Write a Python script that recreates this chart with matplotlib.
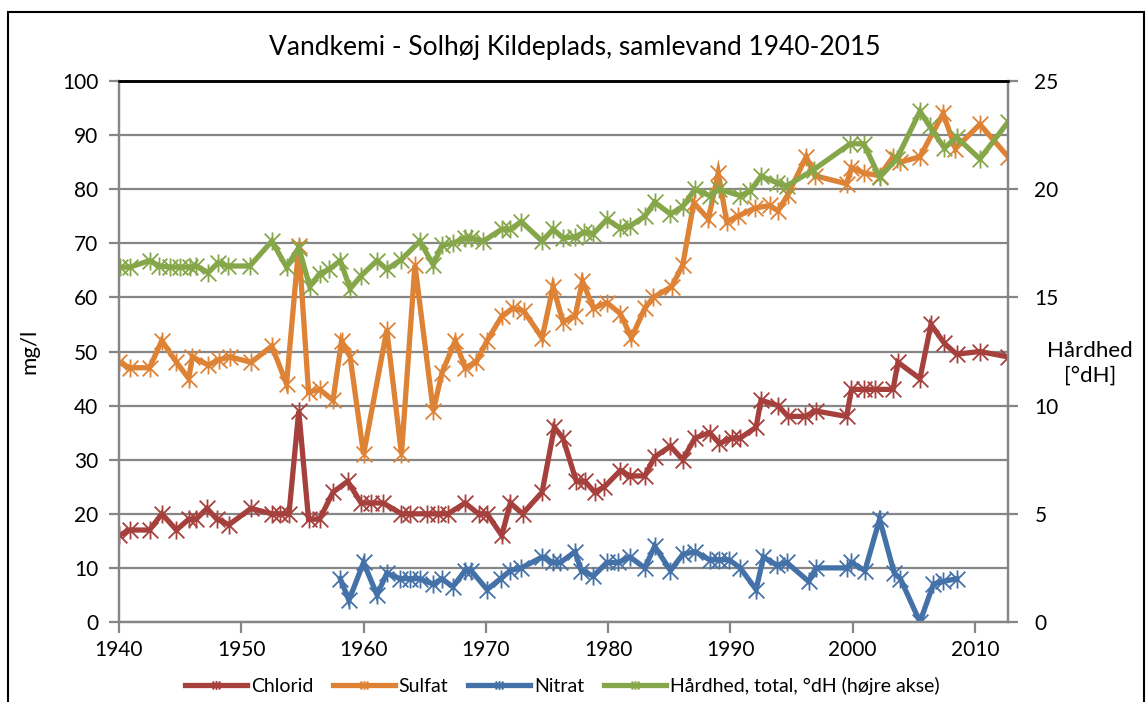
import numpy as np
import matplotlib
matplotlib.use('Agg')
import matplotlib.pyplot as plt
from matplotlib.path import Path
from matplotlib.patches import Rectangle

plt.rcParams['font.family'] = ['Lato', 'DejaVu Sans']

# ----------------------------------------------------------------
# Data (year, value)
# ----------------------------------------------------------------
chlorid_year = [1940.0, 1940.9, 1942.5, 1943.5, 1944.7, 1945.7, 1946.3, 1947.2, 1948.0, 1949.0,
                1950.8, 1952.5, 1953.2, 1953.9, 1954.7, 1955.5, 1956.4, 1957.5, 1958.7, 1959.8,
                1960.6, 1961.6, 1963.1, 1963.8, 1965.2, 1966.1, 1966.9, 1968.3, 1969.4, 1970.1,
                1971.3, 1972.0, 1973.0, 1974.6, 1975.6, 1976.3, 1977.4, 1978.1, 1978.9, 1979.7,
                1981.0, 1981.8, 1983.0, 1983.8, 1985.1, 1986.1, 1987.1, 1988.3, 1989.1, 1990.1,
                1990.8, 1992.1, 1992.5, 1993.9, 1994.7, 1996.1, 1997.0, 1999.5, 1999.9, 2000.9,
                2001.8, 2003.3, 2003.7, 2005.5, 2006.4, 2007.5, 2008.5, 2010.4, 2012.7]
chlorid = [16, 17, 17, 20, 17, 19, 19, 21, 19, 18,
           21, 20, 20, 20, 39, 19, 19, 24, 26, 22,
           22, 22, 20, 20, 20, 20, 20, 22, 20, 20,
           16, 22, 20, 24, 36, 34, 26, 26, 24, 25,
           28, 27, 27, 30.5, 32.5, 30, 34, 35, 33, 34,
           34, 36, 41, 40, 38, 38, 39, 38, 43, 43,
           43, 43, 48, 45, 55, 51.5, 49.5, 50, 49]

sulfat_year = [1940.0, 1940.9, 1942.5, 1943.5, 1944.7, 1945.7, 1946.0, 1947.3, 1948.2, 1949.1,
               1950.8, 1952.5, 1953.7, 1954.7, 1955.5, 1956.4, 1957.5, 1958.2, 1958.9, 1960.0,
               1961.9, 1963.1, 1964.2, 1965.7, 1966.4, 1967.5, 1968.3, 1969.2, 1970.1, 1971.3,
               1972.2, 1973.1, 1974.6, 1975.5, 1976.3, 1977.3, 1977.9, 1978.8, 1979.9, 1981.0,
               1981.9, 1983.0, 1983.7, 1985.2, 1986.1, 1987.0, 1988.2, 1989.0, 1989.7, 1990.6,
               1992.0, 1993.2, 1993.9, 1994.7, 1996.2, 1996.9, 1999.5, 1999.9, 2000.9, 2002.2,
               2003.3, 2003.9, 2005.5, 2007.4, 2008.4, 2010.4, 2012.7]
sulfat = [48, 47, 47, 52, 48, 45, 49, 47.5, 48.5, 49,
          48, 51, 44, 69.5, 42.5, 43, 41, 52, 49, 31,
          54, 31, 66, 39, 46, 52, 47, 48, 52, 56.5,
          58, 57.5, 52.5, 62, 55.5, 56.5, 63, 58, 59, 57,
          52.5, 58, 60, 62, 66, 77.5, 74.5, 83, 74, 75,
          76.5, 77, 76, 79, 86, 82.5, 81, 84, 83, 82.5,
          86, 85, 86, 94, 87.5, 92, 86]

nitrat_year = [1958.1, 1958.8, 1960.0, 1961.1, 1961.9, 1963.0, 1963.8, 1964.6, 1965.7, 1966.4,
               1967.3, 1968.3, 1968.8, 1970.1, 1971.2, 1972.0, 1972.9, 1974.6, 1975.5, 1976.1,
               1977.3, 1977.8, 1978.8, 1979.9, 1980.8, 1981.8, 1983.0, 1983.8, 1985.1, 1986.1,
               1987.1, 1988.3, 1989.1, 1989.9, 1990.8, 1992.1, 1992.7, 1993.8, 1994.6, 1996.4,
               1997.0, 1999.5, 1999.9, 2001.0, 2002.2, 2003.4, 2003.9, 2005.5, 2006.6, 2007.4,
               2008.5]
nitrat = [8, 4, 11, 5, 9, 8, 8, 8, 7, 8,
          6.5, 9.5, 9.5, 6, 8, 9.5, 10, 12, 11, 11,
          13, 9.5, 8.5, 11, 11, 12, 10, 14, 9.5, 12.5,
          13, 11.5, 11.5, 11.5, 10, 6, 12, 10.5, 11, 7.5,
          10, 10, 11, 9.5, 19, 9, 8, 0, 7, 7.5,
          8]

haard_year = [1940.1, 1940.9, 1942.5, 1943.3, 1944.2, 1945.0, 1945.8, 1946.3, 1947.3, 1948.1,
              1948.9, 1950.7, 1952.5, 1953.7, 1954.7, 1955.6, 1956.4, 1957.2, 1958.1, 1958.9,
              1959.8, 1961.1, 1961.9, 1963.1, 1964.6, 1965.7, 1966.4, 1967.3, 1968.3, 1968.8,
              1969.8, 1971.3, 1972.0, 1972.9, 1974.6, 1975.5, 1976.3, 1977.3, 1978.0, 1978.8,
              1979.9, 1981.0, 1981.8, 1983.0, 1983.8, 1985.1, 1986.1, 1987.1, 1988.3, 1989.1,
              1990.8, 1991.6, 1992.5, 1993.8, 1994.6, 1996.8, 1999.8, 2000.9, 2002.2, 2003.6,
              2005.5, 2006.3, 2007.5, 2008.5, 2010.4, 2012.7]
haardhed = [16.4, 16.4, 16.7, 16.45, 16.4, 16.4, 16.4, 16.45, 16.15, 16.6,
            16.45, 16.45, 17.6, 16.4, 17.3, 15.5, 16.1, 16.3, 16.7, 15.4,
            16.0, 16.7, 16.3, 16.75, 17.6, 16.5, 17.4, 17.5, 17.75, 17.75,
            17.6, 18.15, 18.15, 18.5, 17.6, 18.15, 17.75, 17.8, 18.0, 17.95,
            18.6, 18.2, 18.3, 18.75, 19.4, 18.85, 19.2, 20.0, 19.7, 20.0,
            19.7, 19.9, 20.6, 20.3, 20.15, 20.9, 22.1, 22.1, 20.55, 21.4,
            23.6, 22.9, 21.9, 22.4, 21.4, 23.1]

# ----------------------------------------------------------------
# Style
# ----------------------------------------------------------------
c_chl = '#A5403D'
c_sul = '#DE8236'
c_nit = '#4371A8'
c_hrd = '#86A64A'

# Excel-style star marker: X with a vertical bar
star = Path([(-1, -1), (1, 1), (-1, 1), (1, -1), (0, -1.15), (0, 1.15)],
            [Path.MOVETO, Path.LINETO, Path.MOVETO, Path.LINETO, Path.MOVETO, Path.LINETO])

line_kw = dict(lw=3.8, marker=star, ms=13, mew=1.3, fillstyle='none', solid_joinstyle='miter')

fig = plt.figure(figsize=(11.48, 7.02), dpi=100)
ax = fig.add_axes([119/1148, 1 - 622/702, (1008 - 119)/1148, (622 - 81)/702])
ax2 = ax.twinx()

h1, = ax.plot(chlorid_year, chlorid, color=c_chl, mec=c_chl, label='Chlorid', **line_kw)
h2, = ax.plot(sulfat_year, sulfat, color=c_sul, mec=c_sul, label='Sulfat', **line_kw)
h3, = ax.plot(nitrat_year, nitrat, color=c_nit, mec=c_nit, label='Nitrat', **line_kw)
h4, = ax2.plot(haard_year, haardhed, color=c_hrd, mec=c_hrd,
               label='Hårdhed, total, °dH (højre akse)', **line_kw)

grey = '#868686'
ax.set_xlim(1940, 2012.7)
ax.set_ylim(0, 100)
ax2.set_ylim(0, 25)
ax.set_yticks(np.arange(0, 101, 10))
ax2.set_yticks(np.arange(0, 26, 5))
ax.set_xticks(np.arange(1940, 2011, 10))
ax.yaxis.grid(True, color=grey, lw=1.6)
ax.set_axisbelow(True)

for a in (ax, ax2):
    for s in ('left', 'right', 'bottom'):
        a.spines[s].set_color(grey)
        a.spines[s].set_linewidth(1.6)
    a.spines['top'].set_color('black')
    a.spines['top'].set_linewidth(1.8)
    a.tick_params(colors=grey, labelcolor='black', labelsize=15, width=1.6)
ax.tick_params(axis='y', length=7, pad=8)
ax.tick_params(axis='x', length=8, pad=5)
ax2.tick_params(axis='y', length=7, pad=12)

ax.set_ylabel('mg/l', fontsize=16, labelpad=16)
fig.text(1090/1148, 1 - 363/702, 'Hårdhed\n[°dH]', fontsize=16, ha='center', va='center',
         linespacing=1.3)

fig.text(575/1148, 1 - 48/702, 'Vandkemi - Solhøj Kildeplads, samlevand 1940-2015',
         fontsize=19, ha='center', va='center')

fig.legend(handles=[h1, h2, h3, h4], loc='center', bbox_to_anchor=(562/1148, 1 - 686/702),
           ncol=4, frameon=False, fontsize=14, handlelength=3.2, handletextpad=0.2,
           columnspacing=1.0, markerscale=0.5)

# chart-area border
fig.patches.append(Rectangle((8/1148, -0.01), (1144 - 8)/1148, 1 - 12/702 + 0.01,
                             transform=fig.transFigure, fill=False, ec='black', lw=1.5))

fig.savefig('out.png', dpi=100)
